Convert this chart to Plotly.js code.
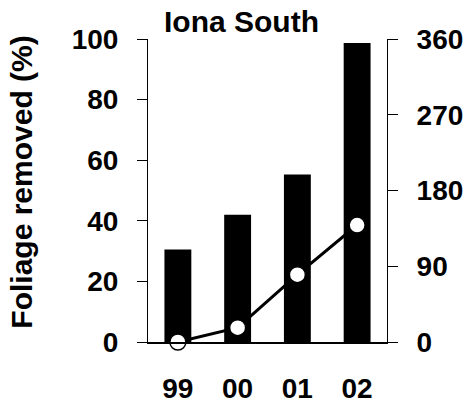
<!DOCTYPE html>
<html>
<head>
<meta charset="utf-8">
<script src="https://cdn.plot.ly/plotly-3.0.1.min.js"></script>
<style>html,body{margin:0;padding:0;background:#fff;}#chart{width:468px;height:405px;}</style>
</head>
<body>
<div id="chart"></div>
<script>
var years = ['99', '00', '01', '02'];
var foliageRemoved = [30.5, 42, 55.3, 98.7];
var secondSeries = [0, 17, 80, 139];
var leftTicks = [0, 20, 40, 60, 80, 100];
var rightTicks = [0, 90, 180, 270, 360];

var FONT = 'Liberation Sans, Arial, sans-serif';

var traces = [
  {
    type: 'bar',
    x: years,
    y: foliageRemoved,
    marker: {color: '#000000', line: {width: 0}},
    width: 0.45,
    hoverinfo: 'skip',
    showlegend: false
  },
  {
    type: 'scatter',
    mode: 'lines+markers',
    x: years,
    y: secondSeries,
    yaxis: 'y2',
    line: {color: '#000000', width: 3},
    marker: {size: 16, color: '#ffffff', line: {color: '#000000', width: 1.5}},
    cliponaxis: false,
    showlegend: false
  }
];

var layout = {
  width: 468,
  height: 405,
  margin: {l: 148, r: 81, t: 39, b: 63, pad: 0},
  paper_bgcolor: '#ffffff',
  plot_bgcolor: '#ffffff',
  showlegend: false,
  font: {family: FONT, color: '#000000'},
  title: {
    text: '<b>Iona South</b>',
    font: {family: FONT, size: 30, color: '#000000'},
    x: 0.516, xref: 'container', xanchor: 'center',
    y: 0.948, yref: 'container', yanchor: 'middle'
  },
  xaxis: {
    type: 'category',
    range: [-0.5, 3.5],
    showline: true, linecolor: '#000000', linewidth: 1.5,
    ticks: '',
    showgrid: false, zeroline: false,
    tickfont: {family: FONT, size: 28, color: '#000000', weight: 'bold'},
    ticklabelstandoff: 21,
    fixedrange: true
  },
  yaxis: {
    range: [0, 100],
    tickvals: leftTicks,
    ticktext: leftTicks.map(String),
    showline: true, linecolor: '#000000', linewidth: 1,
    ticks: 'outside', ticklen: 10, tickwidth: 1, tickcolor: '#000000',
    showgrid: false, zeroline: false,
    tickfont: {family: FONT, size: 28, color: '#000000', weight: 'bold'},
    ticklabelstandoff: 13,
    automargin: false,
    fixedrange: true
  },
  yaxis2: {
    range: [0, 360],
    overlaying: 'y',
    side: 'right',
    tickvals: rightTicks,
    ticktext: rightTicks.map(String),
    showline: true, linecolor: '#000000', linewidth: 1,
    ticks: 'outside', ticklen: 10, tickwidth: 1, tickcolor: '#000000',
    showgrid: false, zeroline: false,
    tickfont: {family: FONT, size: 28, color: '#000000', weight: 'bold'},
    ticklabelstandoff: 13,
    automargin: false,
    fixedrange: true
  },
  annotations: [
    {
      text: '<b>Foliage removed (%)</b>',
      xref: 'paper', yref: 'paper',
      x: -0.527, y: 0.526,
      xanchor: 'center', yanchor: 'middle',
      textangle: -90,
      showarrow: false,
      font: {family: FONT, size: 30, color: '#000000'}
    }
  ]
};

Plotly.newPlot('chart', traces, layout, {displayModeBar: false, staticPlot: true});
</script>
</body>
</html>
